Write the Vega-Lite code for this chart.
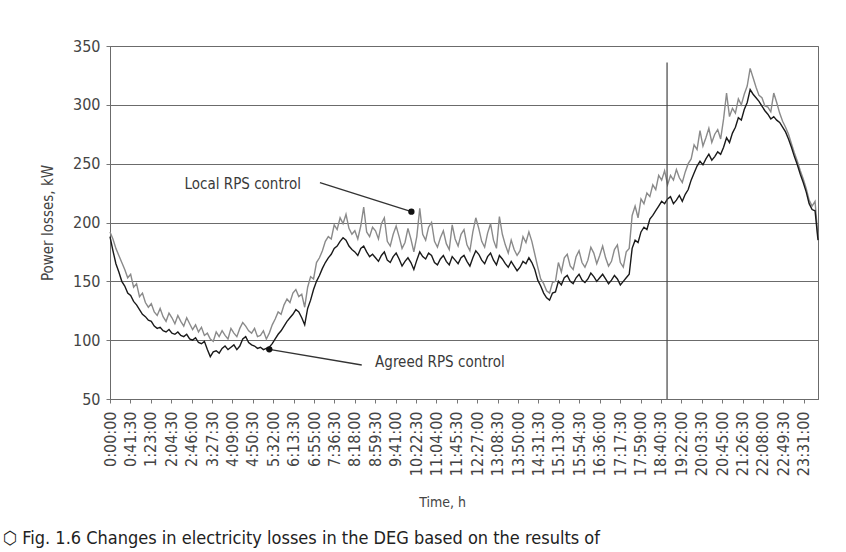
{
  "$schema": "https://vega.github.io/schema/vega-lite/v6.json",
  "width": 708,
  "height": 353,
  "autosize": "none",
  "padding": {"left": 110, "top": 46, "right": 28, "bottom": 153},
  "background": "white",
  "config": {
    "view": {"stroke": "#6b6b6b", "strokeWidth": 1},
    "font": "DejaVu Sans Condensed, Liberation Sans, sans-serif",
    "axis": {"labelOverlap": false}
  },
  "title": {
    "text": "⬡ Fig. 1.6 Changes in electricity losses in the DEG based on the results of",
    "orient": "bottom",
    "anchor": "start",
    "frame": "group",
    "dx": -107,
    "offset": 20,
    "font": "DejaVu Sans Condensed, Liberation Sans, sans-serif",
    "fontSize": 18,
    "fontWeight": "normal",
    "color": "#222222"
  },
  "datasets": {
    "series": [
      {"t":0,"a":188,"l":192},{"t":6,"a":176,"l":186},{"t":12,"a":165,"l":178},{"t":18,"a":158,"l":172},
      {"t":24,"a":150,"l":166},{"t":30,"a":146,"l":160},{"t":36,"a":140,"l":153},{"t":42,"a":138,"l":156},
      {"t":48,"a":133,"l":145},{"t":54,"a":130,"l":148},{"t":60,"a":126,"l":137},{"t":66,"a":122,"l":140},
      {"t":72,"a":120,"l":132},{"t":78,"a":117,"l":128},{"t":84,"a":116,"l":131},{"t":90,"a":112,"l":124},
      {"t":96,"a":110,"l":121},{"t":102,"a":111,"l":127},{"t":108,"a":108,"l":120},{"t":114,"a":107,"l":116},
      {"t":120,"a":109,"l":123},{"t":126,"a":106,"l":119},{"t":132,"a":105,"l":114},{"t":138,"a":107,"l":121},
      {"t":144,"a":104,"l":116},{"t":150,"a":103,"l":112},{"t":156,"a":105,"l":119},{"t":162,"a":101,"l":114},
      {"t":168,"a":100,"l":109},{"t":174,"a":102,"l":113},{"t":180,"a":98,"l":107},{"t":186,"a":97,"l":111},
      {"t":192,"a":99,"l":104},{"t":198,"a":92,"l":106},{"t":204,"a":86,"l":101},{"t":210,"a":90,"l":99},
      {"t":216,"a":91,"l":107},{"t":222,"a":89,"l":103},{"t":228,"a":93,"l":108},{"t":234,"a":95,"l":104},
      {"t":240,"a":92,"l":101},{"t":246,"a":94,"l":110},{"t":252,"a":96,"l":106},{"t":258,"a":92,"l":103},
      {"t":264,"a":95,"l":110},{"t":270,"a":101,"l":115},{"t":276,"a":103,"l":112},{"t":282,"a":98,"l":108},
      {"t":288,"a":96,"l":106},{"t":294,"a":95,"l":110},{"t":300,"a":93,"l":103},{"t":306,"a":94,"l":104},
      {"t":312,"a":92,"l":108},{"t":318,"a":93,"l":101},{"t":324,"a":94,"l":106},{"t":330,"a":97,"l":113},
      {"t":336,"a":101,"l":118},{"t":342,"a":105,"l":124},{"t":348,"a":108,"l":122},{"t":354,"a":112,"l":130},
      {"t":360,"a":116,"l":135},{"t":366,"a":119,"l":132},{"t":372,"a":122,"l":140},{"t":378,"a":126,"l":143},
      {"t":384,"a":124,"l":137},{"t":390,"a":119,"l":139},{"t":396,"a":113,"l":128},{"t":402,"a":127,"l":145},
      {"t":408,"a":134,"l":154},{"t":414,"a":143,"l":152},{"t":420,"a":150,"l":166},{"t":426,"a":155,"l":170},
      {"t":432,"a":161,"l":176},{"t":438,"a":166,"l":184},{"t":444,"a":170,"l":188},{"t":450,"a":173,"l":186},
      {"t":456,"a":178,"l":198},{"t":462,"a":180,"l":194},{"t":468,"a":184,"l":204},{"t":474,"a":187,"l":199},
      {"t":480,"a":185,"l":207},{"t":486,"a":180,"l":195},{"t":492,"a":177,"l":190},{"t":498,"a":175,"l":193},
      {"t":504,"a":172,"l":186},{"t":510,"a":178,"l":197},{"t":516,"a":180,"l":213},{"t":522,"a":175,"l":192},
      {"t":528,"a":171,"l":188},{"t":534,"a":173,"l":196},{"t":540,"a":170,"l":193},{"t":546,"a":167,"l":186},
      {"t":552,"a":172,"l":199},{"t":558,"a":175,"l":204},{"t":564,"a":168,"l":184},{"t":570,"a":166,"l":180},
      {"t":576,"a":171,"l":190},{"t":582,"a":174,"l":197},{"t":588,"a":169,"l":188},{"t":594,"a":163,"l":178},
      {"t":600,"a":167,"l":183},{"t":606,"a":170,"l":195},{"t":612,"a":166,"l":186},{"t":618,"a":160,"l":175},
      {"t":624,"a":168,"l":188},{"t":630,"a":175,"l":212},{"t":636,"a":171,"l":190},{"t":642,"a":169,"l":185},
      {"t":648,"a":174,"l":196},{"t":654,"a":172,"l":200},{"t":660,"a":166,"l":184},{"t":666,"a":164,"l":179},
      {"t":672,"a":169,"l":187},{"t":678,"a":172,"l":193},{"t":684,"a":167,"l":182},{"t":690,"a":164,"l":177},
      {"t":696,"a":171,"l":198},{"t":702,"a":168,"l":186},{"t":708,"a":165,"l":180},{"t":714,"a":170,"l":190},
      {"t":720,"a":172,"l":194},{"t":726,"a":167,"l":181},{"t":732,"a":163,"l":176},{"t":738,"a":170,"l":192},
      {"t":744,"a":176,"l":204},{"t":750,"a":173,"l":195},{"t":756,"a":168,"l":184},{"t":762,"a":165,"l":179},
      {"t":768,"a":171,"l":191},{"t":774,"a":174,"l":199},{"t":780,"a":168,"l":185},{"t":786,"a":164,"l":178},
      {"t":792,"a":172,"l":205},{"t":798,"a":169,"l":190},{"t":804,"a":165,"l":181},{"t":810,"a":162,"l":174},
      {"t":816,"a":167,"l":185},{"t":822,"a":163,"l":177},{"t":828,"a":159,"l":172},{"t":834,"a":162,"l":176},
      {"t":840,"a":167,"l":188},{"t":846,"a":165,"l":183},{"t":852,"a":170,"l":192},{"t":858,"a":166,"l":184},
      {"t":864,"a":160,"l":173},{"t":870,"a":151,"l":162},{"t":876,"a":146,"l":152},{"t":882,"a":140,"l":148},
      {"t":888,"a":136,"l":142},{"t":894,"a":134,"l":140},{"t":900,"a":140,"l":149},{"t":906,"a":141,"l":150},
      {"t":912,"a":150,"l":166},{"t":918,"a":147,"l":158},{"t":924,"a":153,"l":170},{"t":930,"a":155,"l":173},
      {"t":936,"a":150,"l":163},{"t":942,"a":148,"l":160},{"t":948,"a":153,"l":171},{"t":954,"a":156,"l":176},
      {"t":960,"a":151,"l":166},{"t":966,"a":149,"l":162},{"t":972,"a":152,"l":168},{"t":978,"a":157,"l":179},
      {"t":984,"a":154,"l":174},{"t":990,"a":150,"l":165},{"t":996,"a":153,"l":172},{"t":1002,"a":156,"l":180},
      {"t":1008,"a":152,"l":170},{"t":1014,"a":148,"l":163},{"t":1020,"a":151,"l":167},{"t":1026,"a":155,"l":177},
      {"t":1032,"a":152,"l":181},{"t":1038,"a":147,"l":166},{"t":1044,"a":150,"l":162},{"t":1050,"a":153,"l":175},
      {"t":1056,"a":156,"l":178},{"t":1062,"a":178,"l":206},{"t":1068,"a":185,"l":214},{"t":1074,"a":183,"l":204},
      {"t":1080,"a":192,"l":220},{"t":1086,"a":196,"l":216},{"t":1092,"a":194,"l":225},{"t":1098,"a":203,"l":222},
      {"t":1104,"a":206,"l":232},{"t":1110,"a":210,"l":228},{"t":1116,"a":214,"l":240},{"t":1122,"a":218,"l":236},
      {"t":1128,"a":216,"l":244},{"t":1134,"a":220,"l":232},{"t":1140,"a":222,"l":240},{"t":1146,"a":216,"l":236},
      {"t":1152,"a":219,"l":245},{"t":1158,"a":223,"l":238},{"t":1164,"a":218,"l":234},{"t":1170,"a":224,"l":243},
      {"t":1176,"a":228,"l":250},{"t":1182,"a":236,"l":254},{"t":1188,"a":242,"l":266},{"t":1194,"a":248,"l":262},
      {"t":1200,"a":252,"l":278},{"t":1206,"a":249,"l":265},{"t":1212,"a":254,"l":272},{"t":1218,"a":258,"l":280},
      {"t":1224,"a":253,"l":268},{"t":1230,"a":256,"l":275},{"t":1236,"a":260,"l":279},{"t":1242,"a":258,"l":271},
      {"t":1248,"a":264,"l":288},{"t":1254,"a":272,"l":310},{"t":1260,"a":268,"l":290},{"t":1266,"a":276,"l":297},
      {"t":1272,"a":281,"l":293},{"t":1278,"a":289,"l":305},{"t":1284,"a":287,"l":300},{"t":1290,"a":296,"l":309},
      {"t":1296,"a":302,"l":316},{"t":1302,"a":313,"l":331},{"t":1308,"a":309,"l":323},{"t":1314,"a":306,"l":315},
      {"t":1320,"a":303,"l":308},{"t":1326,"a":299,"l":306},{"t":1332,"a":295,"l":299},{"t":1338,"a":292,"l":298},
      {"t":1344,"a":288,"l":294},{"t":1350,"a":290,"l":310},{"t":1356,"a":287,"l":302},{"t":1362,"a":285,"l":293},
      {"t":1368,"a":281,"l":286},{"t":1374,"a":277,"l":281},{"t":1380,"a":271,"l":275},{"t":1386,"a":264,"l":267},
      {"t":1392,"a":256,"l":259},{"t":1398,"a":249,"l":252},{"t":1404,"a":241,"l":244},{"t":1410,"a":234,"l":237},
      {"t":1416,"a":226,"l":229},{"t":1422,"a":216,"l":219},{"t":1428,"a":211,"l":214},{"t":1434,"a":210,"l":218},
      {"t":1440,"a":185,"l":187}
    ],
    "leaders": [
      {"x1":427,"y1":233.8,"x2":613,"y2":209.2},
      {"x1":324,"y1":92.2,"x2":512,"y2":78.9}
    ],
    "dots": [
      {"t":613,"v":209.2},
      {"t":324,"v":92.2}
    ],
    "labels": [
      {"t":270,"v":232.7,"label":"Local RPS control"},
      {"t":671,"v":81.4,"label":"Agreed RPS control"}
    ],
    "marker": [
      {"t":1133,"v1":50,"v2":336}
    ]
  },
  "layer": [
    {
      "data": {"name": "series"},
      "mark": {"type": "line", "color": "#8a8a8a", "strokeWidth": 1.4},
      "encoding": {
        "x": {
          "field": "t",
          "type": "quantitative",
          "title": "Time, h",
          "scale": {"domain": [0, 1440], "nice": false, "zero": false},
          "axis": {
            "values": [0,41.5,83,124.5,166,207.5,249,290.5,332,373.5,415,456.5,498,539.5,581,622.5,664,705.5,747,788.5,830,871.5,913,954.5,996,1037.5,1079,1120.5,1162,1203.5,1245,1286.5,1328,1369.5,1411],
            "tickCount": 40,
            "labelExpr": "floor(datum.value/60) + ':' + (floor(datum.value%60) < 10 ? '0' : '') + floor(datum.value%60) + ':' + (datum.value % 1 > 0 ? '30' : '00')",
            "labelAngle": -90,
            "labelFontSize": 16,
            "labelColor": "#444444",
            "labelPadding": 8,
            "labelOverlap": false,
            "labelFlush": false,
            "labelBound": false,
            "grid": false,
            "tickSize": 4,
            "tickColor": "#777777",
            "domainColor": "#6b6b6b",
            "titleFontSize": 14,
            "titleFontWeight": "normal",
            "titleColor": "#444444",
            "titlePadding": 20,
            "titleX": 332
          }
        },
        "y": {
          "field": "l",
          "type": "quantitative",
          "title": "Power losses, kW",
          "scale": {"domain": [50, 350], "nice": false, "zero": false},
          "axis": {
            "values": [50,100,150,200,250,300,350],
            "tickCount": 10,
            "grid": true,
            "gridColor": "#6b6b6b",
            "gridWidth": 1,
            "tickSize": 4,
            "tickColor": "#777777",
            "domainColor": "#6b6b6b",
            "labelFontSize": 16,
            "labelColor": "#444444",
            "labelPadding": 6,
            "titleFontSize": 15,
            "titleFontWeight": "normal",
            "titleColor": "#444444",
            "titlePadding": 17
          }
        }
      }
    },
    {
      "data": {"name": "series"},
      "mark": {"type": "line", "color": "#1a1a1a", "strokeWidth": 1.4},
      "encoding": {
        "x": {"field": "t", "type": "quantitative", "title": "Time, h"},
        "y": {"field": "a", "type": "quantitative", "title": "Power losses, kW"}
      }
    },
    {
      "data": {"name": "marker"},
      "mark": {"type": "rule", "color": "#444444", "strokeWidth": 1.2},
      "encoding": {
        "x": {"field": "t", "type": "quantitative", "title": "Time, h"},
        "y": {"field": "v1", "type": "quantitative", "title": "Power losses, kW"},
        "y2": {"field": "v2"}
      }
    },
    {
      "data": {"name": "leaders"},
      "mark": {"type": "rule", "color": "#333333", "strokeWidth": 1.3},
      "encoding": {
        "x": {"field": "x1", "type": "quantitative", "title": "Time, h"},
        "y": {"field": "y1", "type": "quantitative", "title": "Power losses, kW"},
        "x2": {"field": "x2"},
        "y2": {"field": "y2"}
      }
    },
    {
      "data": {"name": "dots"},
      "mark": {"type": "point", "filled": true, "color": "#111111", "size": 40, "opacity": 1},
      "encoding": {
        "x": {"field": "t", "type": "quantitative", "title": "Time, h"},
        "y": {"field": "v", "type": "quantitative", "title": "Power losses, kW"}
      }
    },
    {
      "data": {"name": "labels"},
      "mark": {"type": "text", "font": "DejaVu Sans Condensed, Liberation Sans, sans-serif", "fontSize": 15, "color": "#3a3a3a", "align": "center", "baseline": "middle"},
      "encoding": {
        "x": {"field": "t", "type": "quantitative", "title": "Time, h"},
        "y": {"field": "v", "type": "quantitative", "title": "Power losses, kW"},
        "text": {"field": "label"}
      }
    }
  ]
}
